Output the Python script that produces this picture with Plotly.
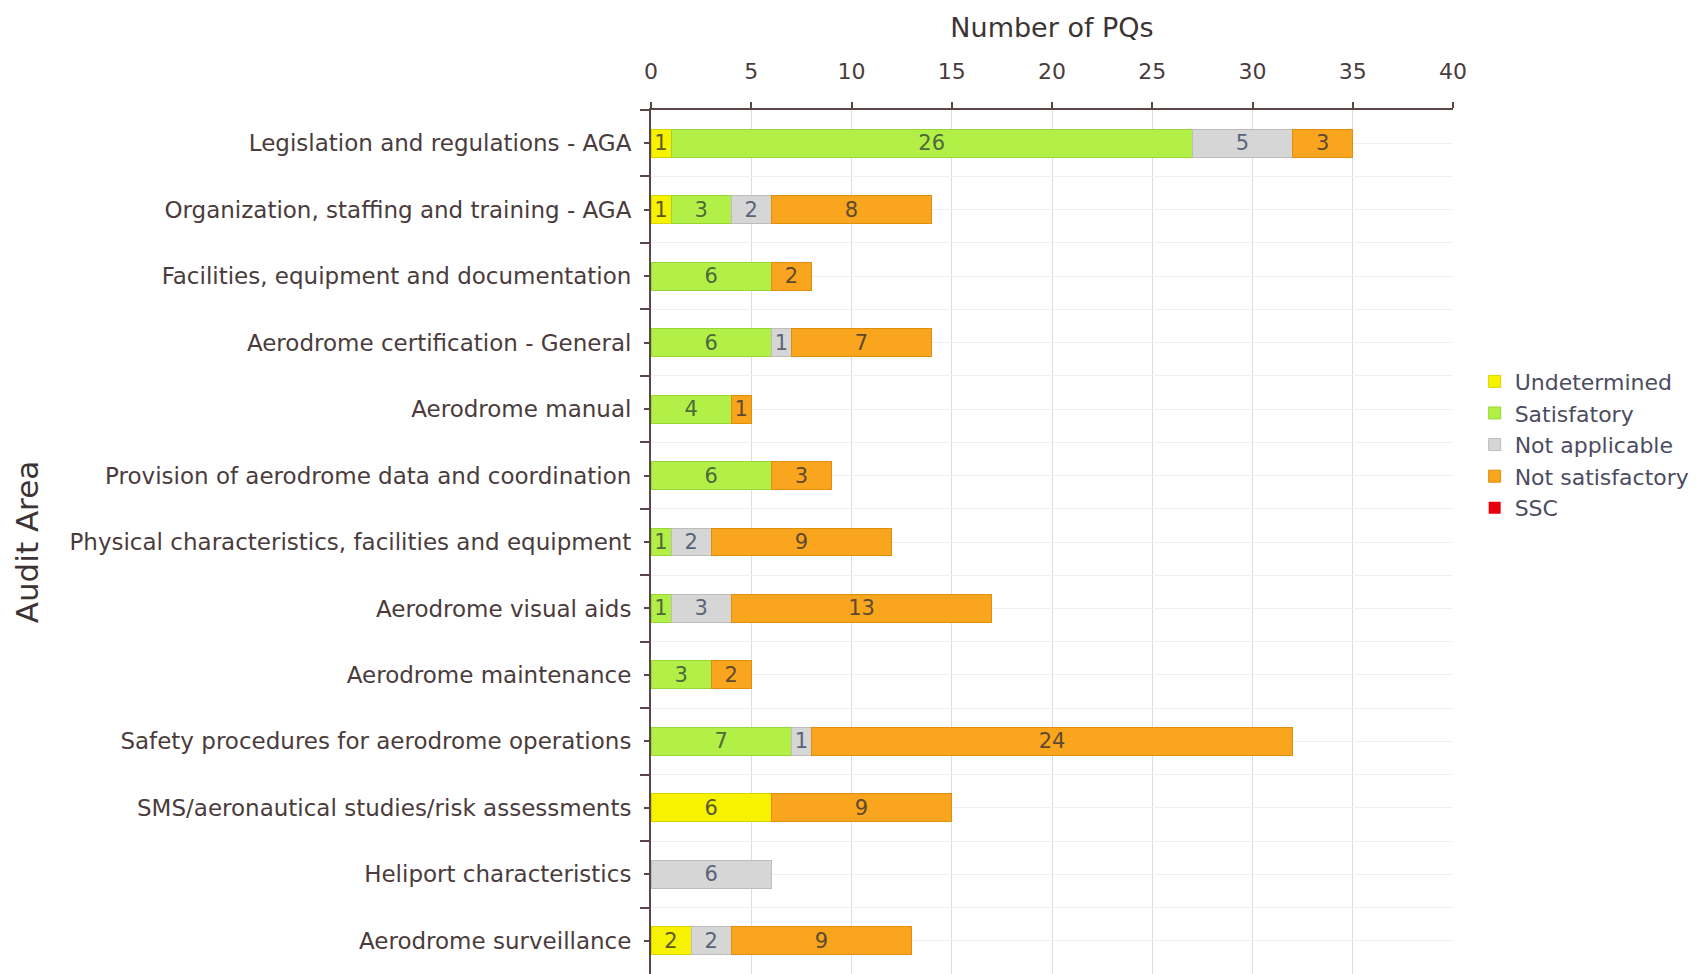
import plotly.graph_objects as go

#############
## DATA    ##
#############
areas = ["Legislation and regulations - AGA",
         "Organization, staffing and training - AGA",
         "Facilities, equipment and documentation",
         "Aerodrome certification - General",
         "Aerodrome manual",
         "Provision of aerodrome data and coordination",
         "Physical characteristics, facilities and equipment",
         "Aerodrome visual aids",
         "Aerodrome maintenance",
         "Safety procedures for aerodrome operations",
         "SMS/aeronautical studies/risk assessments",
         "Heliport characteristics",
         "Aerodrome surveillance"]

undetermined     = [1, 1, 0, 0, 0, 0, 0, 0, 0, 0, 6, 0, 2]
satisfatory      = [26, 3, 6, 6, 4, 6, 1, 1, 3, 7, 0, 0, 0]
not_applicable   = [5, 2, 0, 1, 0, 0, 2, 3, 0, 1, 0, 6, 2]
not_satisfactory = [3, 8, 2, 7, 1, 3, 9, 13, 2, 24, 9, 0, 9]
ssc              = [0, 0, 0, 0, 0, 0, 0, 0, 0, 0, 0, 0, 0]

x_ticks = [0, 5, 10, 15, 20, 25, 30, 35, 40]

###############
## STYLE     ##
###############
FONT     = "DejaVu Sans"
AXIS_COL = "#5a4646"
TXT_COL  = "#4a3c3c"

series = [("Undetermined",     undetermined,     "#f6f200", "#d8d400", "#5c5a2c"),
          ("Satisfatory",      satisfatory,      "#b2f048", "#98d638", "#4e6a3a"),
          ("Not applicable",   not_applicable,   "#d6d6d6", "#bdbdbd", "#5a6478"),
          ("Not satisfactory", not_satisfactory, "#f9a51e", "#e08e10", "#5e4a2e")]

def nz(vals):   # zero segments are left out so no empty outline is drawn
    return [v if v else None for v in vals]

def lbl(vals):
    return [str(v) if v else "" for v in vals]

fig = go.Figure()
for name, vals, col, edge, tcol in series:
    fig.add_trace(go.Bar(y=areas, x=nz(vals), name=name, orientation="h", width=0.42,
                         marker=dict(color=col, line=dict(color=edge, width=1)),
                         text=lbl(vals), textposition="inside", insidetextanchor="middle",
                         textangle=0, constraintext="none",
                         textfont=dict(family=FONT, size=21, color=tcol)))

# SSC sits on the overlay axis (all zeros) so that axis gets its categories
fig.add_trace(go.Bar(y=areas, x=ssc, name="SSC", orientation="h", width=0.42, yaxis="y2",
                     marker=dict(color="#e8000c", line=dict(width=0))))

fig.update_layout(
    width=1704, height=974, barmode="stack",
    margin=dict(l=643, r=259, t=102, b=8),
    paper_bgcolor="white", plot_bgcolor="white",
    font=dict(family=FONT, color=TXT_COL),
    legend=dict(x=1.027, y=0.71, xanchor="left", yanchor="top", traceorder="normal",
                font=dict(family=FONT, size=22, color="#4c4c60"), bgcolor="rgba(0,0,0,0)"),
    xaxis=dict(side="top", range=[0, 40], tickvals=x_ticks, showline=True, linecolor=AXIS_COL,
               linewidth=2, ticks="outside", ticklen=6, tickcolor=AXIS_COL, tickwidth=2,
               gridcolor="#dcdce4", zeroline=False, ticklabelstandoff=14,
               tickfont=dict(size=22, color=TXT_COL),
               title=dict(text="Number of PQs", font=dict(size=27, color="#3c3434"), standoff=14)),
    yaxis=dict(type="category", categoryorder="array", categoryarray=areas, range=[12.5, -0.5],
               showline=True, linecolor=AXIS_COL, linewidth=2, ticks="outside", ticklen=5,
               tickcolor=AXIS_COL, tickwidth=2, gridcolor="#f0f0f2", zeroline=False,
               ticklabelstandoff=8, tickfont=dict(size=23, color=TXT_COL),
               title=dict(text="Audit Area", font=dict(size=31, color="#3c3434"), standoff=22)),
    yaxis2=dict(type="category", categoryorder="array", categoryarray=areas, range=[12.5, -0.5],
                overlaying="y", side="left", tickson="boundaries", showticklabels=False,
                showline=True, linecolor=AXIS_COL, linewidth=2, ticks="outside", ticklen=9,
                tickcolor=AXIS_COL, tickwidth=2, gridcolor="#f0f0f2", zeroline=False),
)

fig.write_html("out.html")
